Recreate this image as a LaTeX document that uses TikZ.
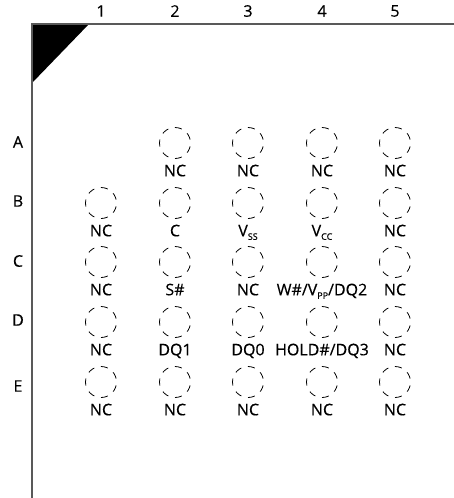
\documentclass[tikz,border=0pt]{standalone}
\usepackage{fontspec}
\setmainfont{Open Sans}[FakeBold=0.3]
\usetikzlibrary{positioning}
\newcommand{\subpin}[1]{\raisebox{-3.5pt}{\fontsize{9}{9}\selectfont #1}}
\tikzset{
	ball/.style={circle,draw,line width=0.8pt,minimum size=31pt,inner sep=0pt,dash pattern=on 7pt off 6.9pt,dash phase=10.45pt},
	pinname/.style={below=5.8pt of #1,inner sep=0pt,font=\fontsize{16}{17}\selectfont,text height=11.4pt,text depth=0pt},
	tag/.style={inner sep=0pt,font=\fontsize{16}{17}\selectfont},
}
\begin{document}
\begin{tikzpicture}[x=1pt,y=-1pt]
	\useasboundingbox (0,0) rectangle (454,498);
	\coordinate (corner) at (32,24);
	\coordinate (right) at (454,24);
	\coordinate (bottom) at (32,498);
	\fill (corner) -- (89,24) -- (32,83) -- cycle;
	\draw [line width=1.3pt,color=black!65] (right) -- (corner) -- (bottom);
	% column and row tags
	\node [tag] (c1) at (101,11) {1};
	\node [tag] (c2) at (175,11) {2};
	\node [tag] (c3) at (248,11) {3};
	\node [tag] (c4) at (322,11) {4};
	\node [tag] (c5) at (395,11) {5};
	\node [tag] (ra) at (18,142) {A};
	\node [tag] (rb) at (18,201) {B};
	\node [tag] (rc) at (18,261) {C};
	\node [tag] (rd) at (18,320) {D};
	\node [tag] (re) at (18,386) {E};
	% row A
	\node [ball] (a2) at (175,143) {}; \node [pinname=a2] (a2t) {NC};
	\node [ball] (a3) at (248,143) {}; \node [pinname=a3] (a3t) {NC};
	\node [ball] (a4) at (322,143) {}; \node [pinname=a4] (a4t) {NC};
	\node [ball] (a5) at (395,143) {}; \node [pinname=a5] (a5t) {NC};
	% row B
	\node [ball] (b1) at (101,203) {}; \node [pinname=b1] (b1t) {NC};
	\node [ball] (b2) at (175,203) {}; \node [pinname=b2] (b2t) {C};
	\node [ball] (b3) at (248,203) {}; \node [pinname=b3] (b3t) {V\subpin{SS}};
	\node [ball] (b4) at (322,203) {}; \node [pinname=b4] (b4t) {V\subpin{CC}};
	\node [ball] (b5) at (395,203) {}; \node [pinname=b5] (b5t) {NC};
	% row C
	\node [ball] (c1b) at (101,262) {}; \node [pinname=c1b] (c1t) {NC};
	\node [ball] (c2b) at (175,262) {}; \node [pinname=c2b] (c2t) {S\#};
	\node [ball] (c3b) at (248,262) {}; \node [pinname=c3b] (c3t) {NC};
	\node [ball] (c4b) at (322,262) {}; \node [pinname=c4b] (c4t) {W\#/V\subpin{PP}/DQ2};
	\node [ball] (c5b) at (395,262) {}; \node [pinname=c5b] (c5t) {NC};
	% row D
	\node [ball] (d1) at (101,322) {}; \node [pinname=d1] (d1t) {NC};
	\node [ball] (d2) at (175,322) {}; \node [pinname=d2] (d2t) {DQ1};
	\node [ball] (d3) at (248,322) {}; \node [pinname=d3] (d3t) {DQ0};
	\node [ball] (d4) at (322,322) {}; \node [pinname=d4] (d4t) {HOLD\#/DQ3};
	\node [ball] (d5) at (395,322) {}; \node [pinname=d5] (d5t) {NC};
	% row E
	\node [ball] (e1) at (101,382) {}; \node [pinname=e1] (e1t) {NC};
	\node [ball] (e2) at (175,382) {}; \node [pinname=e2] (e2t) {NC};
	\node [ball] (e3) at (248,382) {}; \node [pinname=e3] (e3t) {NC};
	\node [ball] (e4) at (322,382) {}; \node [pinname=e4] (e4t) {NC};
	\node [ball] (e5) at (395,382) {}; \node [pinname=e5] (e5t) {NC};
\end{tikzpicture}
\end{document}
